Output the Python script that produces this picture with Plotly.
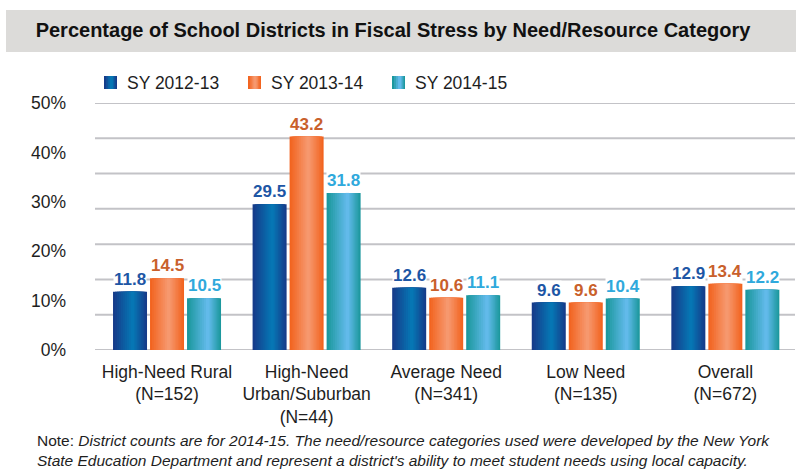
import plotly.graph_objects as go

# ---- data ----
categories = [
    "High-Need Rural<br>(N=152)",
    "High-Need<br>Urban/Suburban<br>(N=44)",
    "Average Need<br>(N=341)",
    "Low Need<br>(N=135)",
    "Overall<br>(N=672)",
]
series_names = ["SY 2012-13", "SY 2013-14", "SY 2014-15"]
sy_2012_13 = [11.8, 29.5, 12.6, 9.6, 12.9]
sy_2013_14 = [14.5, 43.2, 10.6, 9.6, 13.4]
sy_2014_15 = [10.5, 31.8, 11.1, 10.4, 12.2]
y_ticks = [0, 10, 20, 30, 40, 50]
y_tick_labels = ["0%", "10%", "20%", "30%", "40%", "50%"]
grid_steps = 7      # horizontal rules split the 0-50 span into seven bands

title_text = "Percentage of School Districts in Fiscal Stress by Need/Resource Category"
note_text = ("Note: <i>District counts are for 2014-15. The need/resource categories used were "
             "developed by the New York</i><br><i>State Education Department and represent a "
             "district's ability to meet student needs using local capacity.</i>")

# ---- styling ----
W, H = 796, 470
M_L, M_R, M_T, M_B = 95, 1, 103, 120
FONT = "Liberation Sans, Arial, Helvetica, sans-serif"
TEXT = "#1e1e1e"
GRID = "#c3c3c7"

# (edge colour, highlight colour, highlight position across the bar)
shading = [
    ((22, 60, 138), (6, 118, 180), 0.58),
    ((242, 100, 32), (246, 152, 110), 0.55),
    ((28, 152, 158), (98, 186, 234), 0.62),
]
label_colors = ["#1d56a5", "#c9602b", "#2fa9dc"]

bar_w = 0.2436      # bar width in category units
pitch = 0.2651      # distance between neighbouring bar centres
layers = 10         # nested strips giving the cylindrical shading

series_values = [sy_2012_13, sy_2013_14, sy_2014_15]
xs = list(range(len(categories)))
y_max = y_ticks[-1]


def mix(a, b, t):
    return "rgb({},{},{})".format(*[round(a[i] + (b[i] - a[i]) * t) for i in range(3)])


def px_x(px):
    return (px - M_L) / (W - M_L - M_R)


def px_y(py):
    return (H - M_B - py) / (H - M_T - M_B)


fig = go.Figure()

for s, (name, vals) in enumerate(zip(series_names, series_values)):
    edge, hi, pos = shading[s]
    left0 = (s - 1) * pitch - bar_w / 2
    for j in range(layers):
        t = j / layers
        left = left0 + t * pos * bar_w
        width = bar_w * (1 - t)
        fig.add_trace(go.Bar(
            x=xs, y=vals, width=width, offset=left,
            marker=dict(color=mix(edge, hi, t / (1 - 1 / layers)), line=dict(width=0)),
            name=name, showlegend=False,
            hoverinfo="skip" if j else "y+name",
        ))

# value labels with a white halo over the gridlines
for s, vals in enumerate(series_values):
    for k, v in enumerate(vals):
        fig.add_annotation(
            x=k + (s - 1) * pitch, y=v, text=f"{v:.1f}",
            showarrow=False, yanchor="bottom", yshift=2,
            bgcolor="white", borderpad=0,
            font=dict(family=FONT, size=17, color=label_colors[s], weight="bold"),
        )

# horizontal rules
for k in range(grid_steps + 1):
    fig.add_shape(type="line", xref="paper", yref="y",
                  x0=0, x1=1, y0=k * y_max / grid_steps, y1=k * y_max / grid_steps,
                  line=dict(color=GRID, width=2), layer="below")

# grey title band
fig.add_shape(type="rect", xref="paper", yref="paper",
              x0=px_x(6), x1=px_x(W + 2), y0=px_y(52), y1=px_y(10),
              fillcolor="#dcdbd9", line=dict(width=0), layer="below")

# legend: swatch + label per series
legend_x = [104, 248, 392]
for s, name in enumerate(series_names):
    edge, hi, pos = shading[s]
    x0 = legend_x[s]
    for j in range(4):
        t = j / 4
        fig.add_shape(type="rect", xref="paper", yref="paper",
                      x0=px_x(x0 + t * pos * 13), x1=px_x(x0 + 13 - t * (1 - pos) * 13),
                      y0=px_y(89), y1=px_y(76),
                      fillcolor=mix(edge, hi, t / 0.75), line=dict(width=0))
    fig.add_annotation(xref="paper", yref="paper", x=px_x(x0 + 21), y=px_y(82.5),
                       xanchor="left", yanchor="middle", showarrow=False,
                       text=name, font=dict(family=FONT, size=17.5, color=TEXT))

fig.add_annotation(
    xref="paper", yref="paper", x=px_x(35), y=px_y(450.5),
    xanchor="left", yanchor="middle", align="left", showarrow=False,
    text=note_text, font=dict(family=FONT, size=15.5, color=TEXT),
)

fig.update_layout(
    width=W, height=H,
    margin=dict(l=M_L, r=M_R, t=M_T, b=M_B),
    paper_bgcolor="white", plot_bgcolor="white",
    barmode="overlay", showlegend=False,
    font=dict(family=FONT, size=17.5, color=TEXT),
    title=dict(text=title_text, xref="container", yref="container",
               x=393 / W, xanchor="center", y=1 - 30 / H, yanchor="middle",
               font=dict(family=FONT, size=20, color="#111111", weight="bold")),
    xaxis=dict(range=[-0.516, 4.499], tickvals=xs, ticktext=categories,
               showgrid=False, zeroline=False, showline=False, ticks="",
               ticklabelstandoff=9,
               tickfont=dict(family=FONT, size=17.5, color=TEXT), fixedrange=True),
    yaxis=dict(range=[0, y_max], tickvals=y_ticks, ticktext=y_tick_labels,
               showgrid=False, zeroline=False, showline=False, ticks="",
               ticklabelstandoff=28,
               tickfont=dict(family=FONT, size=17.5, color=TEXT), fixedrange=True),
)

fig.write_html("out.html")
